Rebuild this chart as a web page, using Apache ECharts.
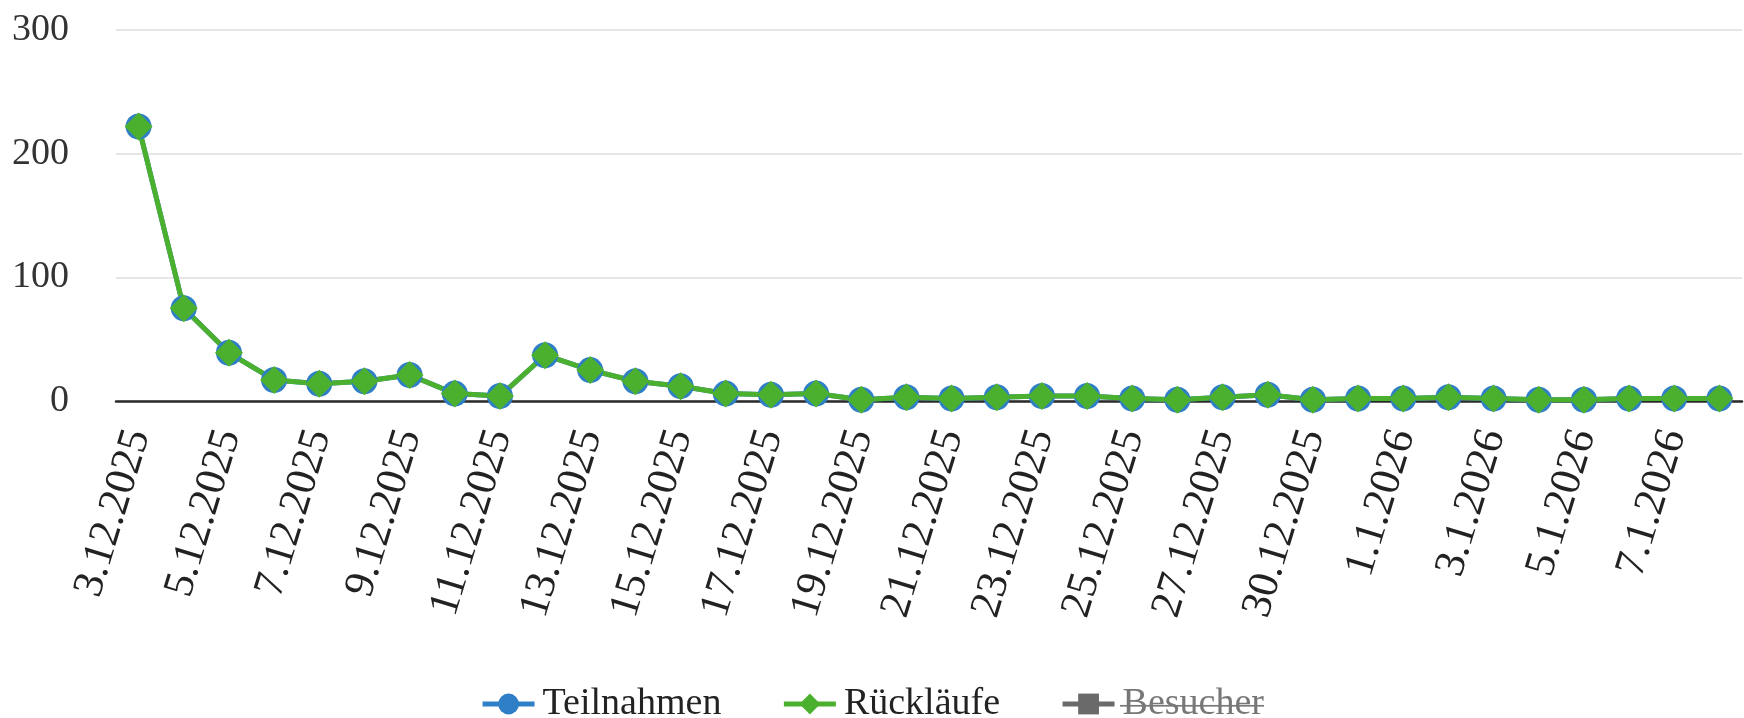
<!DOCTYPE html>
<html><head><meta charset="utf-8">
<script src="https://cdn.jsdelivr.net/npm/echarts@6/dist/echarts.min.js"></script>
<style>html,body{margin:0;padding:0;background:#fff}#c{width:1744px;height:718px}</style>
</head><body><div id="c"></div>
<script>
const categories = ['3.12.2025','4.12.2025','5.12.2025','6.12.2025','7.12.2025','8.12.2025','9.12.2025','10.12.2025','11.12.2025','12.12.2025','13.12.2025','14.12.2025','15.12.2025','16.12.2025','17.12.2025','18.12.2025','19.12.2025','20.12.2025','21.12.2025','22.12.2025','23.12.2025','24.12.2025','25.12.2025','26.12.2025','27.12.2025','28.12.2025','30.12.2025','31.12.2025','1.1.2026','2.1.2026','3.1.2026','4.1.2026','5.1.2026','6.1.2026','7.1.2026','8.1.2026'];
const teilnahmen = [222,75,39,17,14,16,21,6,4,37,25,16,12,6,5,6,1,3,2,3,4,4,2,1,3,5,1,2,2,3,2,1,1,2,2,2];
const ruecklaeufe = [222,75,39,17,14,16,21,6,4,37,25,16,12,6,5,6,1,3,2,3,4,4,2,1,3,5,1,2,2,3,2,1,1,2,2,2];
const besucher = [];
const seriesNames = ['Teilnahmen','Rückläufe','Besucher'];
const yMin = 0, yMax = 300, yStep = 100;

const FONT = '"Liberation Serif", "Times New Roman", serif';
const strike = document.createElement('canvas');
strike.width = 4; strike.height = 44;
const sctx = strike.getContext('2d');
sctx.fillStyle = '#777';
sctx.fillRect(0, 23, 4, 2);

const chart = echarts.init(document.getElementById('c'), null, {renderer: 'canvas'});
chart.setOption({
  animation: false,
  backgroundColor: '#fff',
  grid: {left: 116, right: 2, top: 30, bottom: 317, containLabel: false},
  legend: {
    data: seriesNames,
    left: 'center',
    top: 680,
    itemGap: 60,
    itemWidth: 52,
    itemHeight: 26,
    inactiveColor: '#6a6a6a',
    inactiveBorderColor: '#6a6a6a',
    selected: {'Besucher': false},
    lineStyle: {width: 5, inactiveColor: '#6a6a6a', inactiveWidth: 5},
    formatter: function (n) { return n === 'Besucher' ? '{s|' + n + '}' : '{n|' + n + '}'; },
    textStyle: {
      fontFamily: FONT, fontSize: 38, color: '#222',
      rich: {
        n: {fontFamily: FONT, fontSize: 38, lineHeight: 44, padding: [0, 0, 0, 3]},
        s: {fontFamily: FONT, fontSize: 38, lineHeight: 44, color: '#777', padding: [0, 0, 0, 3], backgroundColor: {image: strike}}
      }
    }
  },
  xAxis: {
    type: 'category',
    data: categories,
    boundaryGap: true,
    axisLine: {show: true, lineStyle: {color: '#2a2a2a', width: 2.5}},
    axisTick: {show: false},
    axisLabel: {interval: 1, rotate: 73, margin: 30, fontFamily: FONT, fontSize: 43, color: '#222'}
  },
  yAxis: {
    type: 'value',
    min: yMin, max: yMax, interval: yStep,
    axisLine: {show: false},
    axisTick: {show: false},
    axisLabel: {margin: 47, fontFamily: FONT, fontSize: 38, color: '#333'},
    splitLine: {lineStyle: {color: '#e6e6e6', width: 2}}
  },
  series: [
    {name: 'Teilnahmen', type: 'line', data: teilnahmen, symbol: 'circle', symbolSize: 26,
      itemStyle: {color: '#2f7fc6'}, lineStyle: {color: '#2f7fc6', width: 5}},
    {name: 'Rückläufe', type: 'line', data: ruecklaeufe, symbol: 'diamond', symbolSize: 28,
      itemStyle: {color: '#4cb02f'}, lineStyle: {color: '#4cb02f', width: 5}},
    {name: 'Besucher', type: 'line', data: besucher, symbol: 'rect', symbolSize: 18,
      itemStyle: {color: '#666'}, lineStyle: {color: '#666', width: 5}}
  ]
});
</script>
</body></html>
